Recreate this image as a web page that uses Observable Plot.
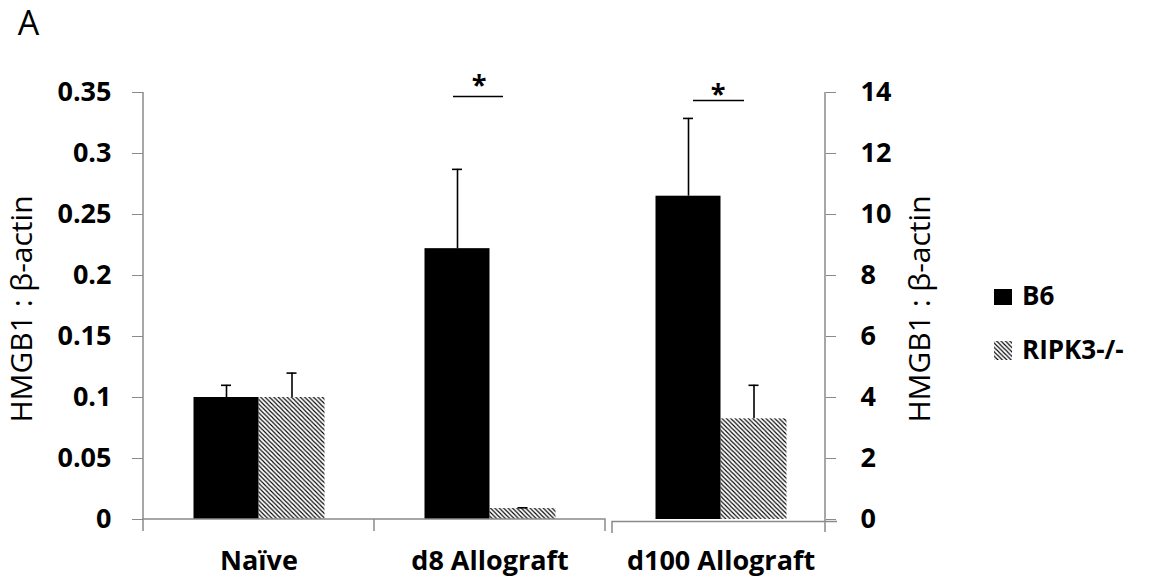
<!DOCTYPE html>
<html><head><meta charset="utf-8">
<script src="https://cdn.jsdelivr.net/npm/d3@7"></script>
<script src="https://cdn.jsdelivr.net/npm/@observablehq/plot@0.6"></script>
<style>
html,body{margin:0;padding:0;background:#fff;}
#chart svg{font-family:"Open Sans",sans-serif;overflow:visible;}
</style></head><body><div id="chart"></div>
<script>
// ---- data ----
const categories = ["Naïve", "d8 Allograft", "d100 Allograft"];
const axisSide = ["left", "left", "right"];          // d100 plotted on the secondary axis
const seriesNames = ["B6", "RIPK3-/-"];
const b6Values = [0.100, 0.222, 10.6];
const b6Errors = [0.010, 0.065, 2.55];
const ripkValues = [0.100, 0.009, 3.3];
const ripkErrors = [0.020, 0.0006, 1.1];
const leftTicks = [0, 0.05, 0.1, 0.15, 0.2, 0.25, 0.3, 0.35];
const rightTicks = [0, 2, 4, 6, 8, 10, 12, 14];
const sigCategories = ["d8 Allograft", "d100 Allograft"];
const sigLevels = [0.3467, 0.3435];                   // left-axis units
const sigLabel = "*";
const yTitle = "HMGB1 : β-actin";
const panelLabel = "A";

// ---- build table ----
const rightPerLeft = 14 / 0.35;
const toLeft = (v, i) => axisSide[i] === "right" ? v / rightPerLeft : v;
const rows = [];
categories.forEach((c, i) => {
  rows.push({cat: c, series: seriesNames[0], value: toLeft(b6Values[i], i), top: toLeft(b6Values[i] + b6Errors[i], i)});
  rows.push({cat: c, series: seriesNames[1], value: toLeft(ripkValues[i], i), top: toLeft(ripkValues[i] + ripkErrors[i], i)});
});
const b6 = rows.filter(d => d.series === seriesNames[0]);
const rk = rows.filter(d => d.series === seriesNames[1]);
const sig = sigCategories.map((c, i) => ({cat: c, y: sigLevels[i]}));

// ---- layout ----
const W = 1158, H = 586, mL = 143, mR = 333, mT = 92, mB = 67;
const bw = 231, barB6 = 65, barRk = 66;
const grey = "#8a8a8a";
const fontTick = {fontSize: 27, fontWeight: "bold", fill: "black"};

const plot = Plot.plot({
  width: W, height: H,
  marginLeft: mL, marginRight: mR, marginTop: mT, marginBottom: mB,
  x: {domain: categories, range: [mL, mL + bw * categories.length], padding: 0, axis: null},
  y: {domain: [0, 0.35], axis: null},
  marks: [
    Plot.barY(b6, {x: "cat", y: "value", fill: "black", insetLeft: bw / 2 - barB6, insetRight: bw / 2}),
    Plot.barY(rk, {x: "cat", y: "value", fill: "url(#hatch)", insetLeft: bw / 2, insetRight: bw / 2 - barRk}),
    Plot.ruleX(b6, {x: "cat", y1: "value", y2: "top", stroke: "black", strokeWidth: 1.6, dx: -barB6 / 2}),
    Plot.ruleX(rk, {x: "cat", y1: "value", y2: "top", stroke: "black", strokeWidth: 1.6, dx: barRk / 2}),
    Plot.tickY(b6, {x: "cat", y: "top", stroke: "black", strokeWidth: 1.6, insetLeft: bw / 2 - 5, insetRight: bw / 2 - 5, dx: -barB6 / 2}),
    Plot.tickY(rk, {x: "cat", y: "top", stroke: "black", strokeWidth: 1.6, insetLeft: bw / 2 - 5, insetRight: bw / 2 - 5, dx: barRk / 2}),
    // significance
    Plot.tickY(sig.slice(0, 1), {x: "cat", y: "y", stroke: "black", strokeWidth: 1.6, insetLeft: 79, insetRight: 102}),
    Plot.tickY(sig.slice(1), {x: "cat", y: "y", stroke: "black", strokeWidth: 1.6, insetLeft: 88, insetRight: 92}),
    Plot.text(sig.slice(0, 1), {x: "cat", y: "y", text: () => sigLabel, dx: -11, dy: -3, fontSize: 27, fontWeight: "bold", lineAnchor: "bottom"}),
    Plot.text(sig.slice(1), {x: "cat", y: "y", text: () => sigLabel, dx: -3, dy: 3, fontSize: 27, fontWeight: "bold", lineAnchor: "bottom"}),
    // axes
    Plot.axisY(leftTicks, {anchor: "left", tickSize: 11, tickPadding: 21, stroke: grey, tickFormat: d => String(d), ...fontTick, label: null}),
    Plot.axisY(rightTicks.map(v => v / rightPerLeft), {anchor: "right", tickSize: 10, tickPadding: 25, stroke: grey, tickFormat: d => String(Math.round(d * rightPerLeft)), ...fontTick, label: null}),
    Plot.axisX({tickSize: 0, tickPadding: 31, fontSize: 27, fontWeight: "bold", fill: "black", label: null}),
    Plot.text([yTitle], {frameAnchor: "left", rotate: -90, dx: -121, dy: 3, fontSize: 30, fill: "black", textAnchor: "middle"}),
    Plot.text([yTitle], {frameAnchor: "right", rotate: -90, dx: 95, dy: 3, fontSize: 30, fill: "black", textAnchor: "middle"}),
    Plot.text([panelLabel], {frameAnchor: "top-left", dx: -115, dy: -82, fontSize: 34, fill: "black", textAnchor: "middle", lineAnchor: "top"})
  ]
});

// hatch pattern + axis lines + legend
const svg = d3.select(plot);
const defs = svg.insert("defs", ":first-child");
defs.append("pattern").attr("id", "hatch").attr("patternUnits", "userSpaceOnUse").attr("width", 4.4).attr("height", 4.4)
  .append("path").attr("d", "M-1,-1L5.4,5.4M3.4,-1L5.4,1M-1,3.4L1,5.4").attr("stroke", "black").attr("stroke-width", 1.1);

const xs = plot.scale("x"), ys = plot.scale("y");
const y0 = ys.apply(0), yTop = ys.apply(0.35);
const xA = xs.apply(categories[0]), xB = xs.apply(categories[1]) + xs.bandwidth, xC = xs.apply(categories[2]) + 7;
const xR = W - mR;
const g = svg.append("g").attr("stroke", grey).attr("stroke-width", 1.5).attr("fill", "none");
g.append("path").attr("d", `M${mL},${yTop}V${y0}`);
g.append("path").attr("d", `M${xR},${yTop}V${y0 + 13}`);
g.append("path").attr("d", `M${xA},${y0 + 12}V${y0}H${xB}V${y0 + 12}`);
g.append("path").attr("d", `M${xs.apply(categories[1])},${y0}V${y0 + 12}`);
g.append("path").attr("d", `M${xC},${y0 + 14}V${y0 + 2.5}H${xR + 12}`);

const lg = svg.append("g").attr("font-family", "Open Sans").attr("font-weight", "bold").attr("font-size", 26).attr("text-anchor", "start");
const legendX = 994, legendY = [296, 350];
seriesNames.forEach((s, i) => {
  lg.append("rect").attr("x", legendX).attr("y", legendY[i] - (i ? 9 : 7)).attr("width", 18).attr("height", i ? 19 : 16)
    .attr("fill", i ? "url(#hatch)" : "black");
  lg.append("text").attr("x", legendX + 28).attr("y", legendY[i]).attr("dy", "0.35em").text(s);
});
document.getElementById("chart").appendChild(plot);
</script></body></html>
